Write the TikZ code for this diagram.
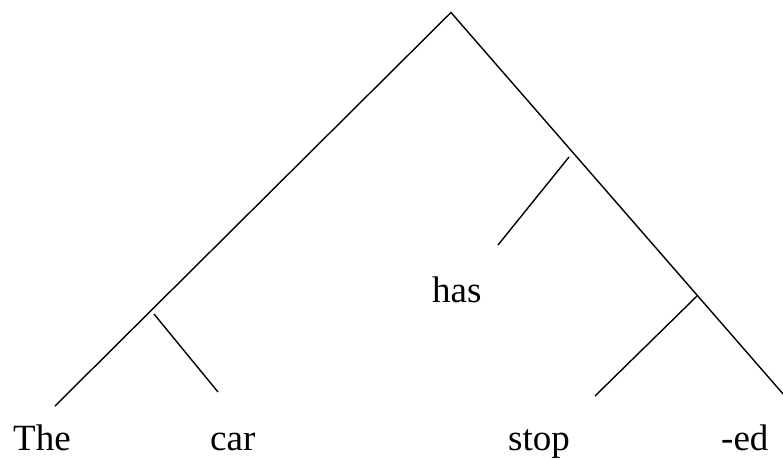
\documentclass[tikz,border=0pt]{standalone}
\usepackage{fontspec}
\setmainfont{Liberation Serif}
\usepackage{tikz}

\begin{document}
\begin{tikzpicture}[x=1pt,y=-1pt,
    branch/.style={line width=1.4pt},
    word/.style={anchor=base west,inner sep=0pt,font=\fontsize{37}{44}\selectfont}]
    % Fix the page size
    \useasboundingbox (0,0) rectangle (783,459);

    % Points of the tree
    \coordinate (top) at (451,12.5);
    \coordinate (leftend) at (55,406);
    \coordinate (rightend) at (784,395);
    \coordinate (npjoin) at (154,314);
    \coordinate (npend) at (218,392);
    \coordinate (vpjoin) at (569,157);
    \coordinate (hasend) at (498,245);
    \coordinate (vjoin) at (697,296);
    \coordinate (stopend) at (595,396);

    % Words
    \node[word] (the) at (13,450) {The};
    \node[word] (car) at (210,450) {car};
    \node[word] (has) at (432,302) {has};
    \node[word] (stop) at (508,450) {stop};
    \node[word] (ed) at (721,450) {-ed};

    % Main branches
    \draw[branch] (leftend) -- (top) -- (rightend);

    % Side branches
    \draw[branch] (npjoin) -- (npend);
    \draw[branch] (vpjoin) -- (hasend);
    \draw[branch] (vjoin) -- (stopend);
\end{tikzpicture}
\end{document}
